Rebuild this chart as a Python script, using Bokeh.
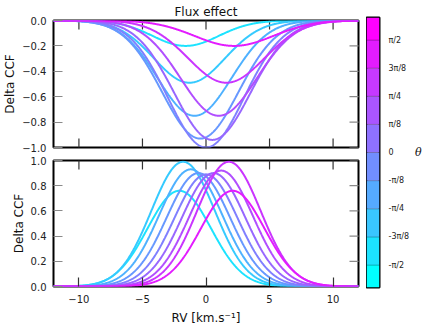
import numpy as np
from bokeh.plotting import figure
from bokeh.models import FixedTicker, LinearAxis, Range1d
from bokeh.layouts import row, column
from bokeh.embed import file_html
from bokeh.resources import INLINE

# ---------------- data ----------------
theta_k = [-4, -3, -2, -1, 0, 1, 2, 3, 4]          # theta in units of pi/8
theta_labels = ["-π/2", "-3π/8", "-π/4", "-π/8", "0", "π/8", "π/4", "3π/8", "π/2"]

# top panel (flux effect): Gaussian dips
flux_depth = [0.20, 0.49, 0.75, 0.93, 1.00, 0.94, 0.75, 0.49, 0.20]
flux_center = [-1.6, -1.3, -0.9, -0.45, 0.0, 0.5, 1.0, 1.6, 2.2]
flux_width = [2.6, 2.8, 2.9, 3.0, 3.0, 3.0, 3.0, 3.0, 3.1]

# bottom panel: Gaussian bumps
rv_peak = [0.76, 0.99, 0.93, 0.90, 0.89, 0.90, 0.92, 0.99, 0.76]
rv_center = [-2.1, -1.8, -1.2, -0.6, 0.0, 0.6, 1.2, 1.8, 2.1]
rv_width = [2.5, 2.5, 2.5, 2.5, 2.5, 2.5, 2.5, 2.5, 2.5]

x_lim = [-12, 12]
x_ticks = [-10, -5, 0, 5, 10]
x_tick_labels = ["−10", "−5", "0", "5", "10"]
top_lim = [-1.0, 0.0]
top_ticks = [0.0, -0.2, -0.4, -0.6, -0.8, -1.0]
top_tick_labels = ["0.0", "−0.2", "−0.4", "−0.6", "−0.8", "−1.0"]
bot_lim = [0.0, 1.0]
bot_ticks = [0.0, 0.2, 0.4, 0.6, 0.8, 1.0]
bot_tick_labels = ["0.0", "0.2", "0.4", "0.6", "0.8", "1.0"]

# colorbar levels (units of pi/8)
cbar_bounds = [-4.8, -4, -3, -2, -1, 0, 1, 2, 3, 4, 4.8]
# ------------------------------------------------------------

FONT = "DejaVu Sans"
X_TICK_COLOR = "#333333"
Y_TICK_COLOR = "#8a8a8a"
x = np.linspace(x_lim[0], x_lim[1], 601)


def cool_hex(t):
    r = int(round(255 * t))
    g = int(round(255 * (1 - t)))
    return "#%02x%02x%02x" % (r, g, 255)


curve_colors = [cool_hex(0.5 + 0.39 * k / 4) for k in theta_k]
nseg = len(cbar_bounds) - 1
seg_colors = [cool_hex(i / (nseg - 1)) for i in range(nseg)]


def style_axis(ax, ticks, labels, tick_color, standoff):
    ax.ticker = FixedTicker(ticks=ticks)
    ax.major_tick_in = 9
    ax.major_tick_out = 0
    ax.minor_tick_in = 0
    ax.minor_tick_out = 0
    ax.axis_line_color = None
    ax.major_tick_line_color = tick_color
    ax.major_tick_line_width = 1.2
    ax.major_label_overrides = {t: l for t, l in zip(ticks, labels)}
    ax.major_label_text_font_size = "10px"
    ax.major_label_text_font = FONT
    ax.major_label_text_color = "#222222"
    ax.major_label_standoff = standoff


def make_panel(height, top_border, bottom_border, ylim, yticks, ylabels, with_xlabels, title=None):
    p = figure(width=366, height=height, x_range=Range1d(*x_lim), y_range=Range1d(*ylim),
               output_backend="svg", toolbar_location=None, title=title,
               min_border_left=52, min_border_right=8,
               min_border_top=top_border, min_border_bottom=bottom_border,
               x_axis_location=None, y_axis_location=None)
    p.grid.visible = False
    p.outline_line_color = "black"
    p.outline_line_width = 2
    p.background_fill_color = "white"
    p.border_fill_color = "white"

    left = LinearAxis(axis_label="Delta CCF")
    style_axis(left, yticks, ylabels, Y_TICK_COLOR, 7)
    left.axis_label_text_font = FONT
    left.axis_label_text_font_size = "12px"
    left.axis_label_text_font_style = "normal"
    left.axis_label_text_color = "#111111"
    left.axis_label_standoff = 2
    p.add_layout(left, "left")

    if with_xlabels:
        below = LinearAxis(axis_label="RV [km.s⁻¹]")
        style_axis(below, x_ticks, x_tick_labels, X_TICK_COLOR, 8)
        below.axis_label_text_font = FONT
        below.axis_label_text_font_size = "12px"
        below.axis_label_text_font_style = "normal"
        below.axis_label_text_color = "#111111"
        below.axis_label_standoff = 5
        p.add_layout(below, "below")
        edge_x_rows = [ylim[1]]
    else:
        edge_x_rows = [ylim[0], ylim[1]]

    # inward ticks on the unlabelled sides (half of each dash is clipped by the frame)
    for yy in edge_x_rows:
        p.scatter(x=x_ticks, y=[yy] * len(x_ticks), marker="dash", size=18, angle=np.pi / 2,
                  line_color=X_TICK_COLOR, line_width=1.2)
    p.scatter(x=[x_lim[1]] * len(yticks), y=yticks, marker="dash", size=18,
              line_color=Y_TICK_COLOR, line_width=1.2)

    if title is not None:
        p.title.text_font = FONT
        p.title.text_font_size = "12px"
        p.title.text_font_style = "normal"
        p.title.text_color = "#111111"
        p.title.align = "center"
        p.title.standoff = 4
    return p


p_top = make_panel(153, 20, 6, top_lim, top_ticks, top_tick_labels, False, title="Flux effect")
p_bot = make_panel(174, 7, 40, bot_lim, bot_ticks, bot_tick_labels, True)

xs_top, ys_top, xs_bot, ys_bot = [], [], [], []
for i in range(len(theta_k)):
    xs_top.append(x)
    ys_top.append(-flux_depth[i] * np.exp(-(x - flux_center[i]) ** 2 / (2 * flux_width[i] ** 2)))
    xs_bot.append(x)
    ys_bot.append(rv_peak[i] * np.exp(-(x - rv_center[i]) ** 2 / (2 * rv_width[i] ** 2)))

p_top.multi_line(xs_top, ys_top, line_color=curve_colors, line_width=2)
p_bot.multi_line(xs_bot, ys_bot, line_color=curve_colors, line_width=2)

# ---------------- colorbar ----------------
pi8 = np.pi / 8
pc = figure(width=70, height=327, x_range=Range1d(0, 1),
            y_range=Range1d(cbar_bounds[0] * pi8, cbar_bounds[-1] * pi8),
            output_backend="svg", toolbar_location=None,
            min_border_left=0, min_border_right=57, min_border_top=17, min_border_bottom=40,
            x_axis_location=None, y_axis_location="right")
pc.grid.visible = False
pc.outline_line_color = "black"
pc.outline_line_width = 2
pc.quad(left=0, right=1,
        bottom=[b * pi8 for b in cbar_bounds[:-1]], top=[b * pi8 for b in cbar_bounds[1:]],
        fill_color=seg_colors, line_color="black", line_alpha=0.2, line_width=1)
ax = pc.yaxis[0]
tick_vals = [k * pi8 for k in theta_k]
ax.ticker = FixedTicker(ticks=tick_vals)
ax.major_label_overrides = {t: l for t, l in zip(tick_vals, theta_labels)}
ax.major_tick_in = 0
ax.major_tick_out = 0
ax.minor_tick_in = 0
ax.minor_tick_out = 0
ax.axis_line_color = None
ax.major_label_text_font = FONT
ax.major_label_text_font_size = "8px"
ax.major_label_text_color = "#222222"
ax.major_label_standoff = 9
ax.axis_label = "θ"
ax.axis_label_text_font = "DejaVu Serif"
ax.axis_label_text_font_style = "italic"
ax.axis_label_text_font_size = "11px"
ax.axis_label_text_color = "#111111"
ax.axis_label_standoff = 3
try:
    ax.axis_label_orientation = "horizontal"
except Exception:
    pass

layout = row(column(p_top, p_bot), pc)
open("out.html", "w").write(file_html(layout, INLINE))
